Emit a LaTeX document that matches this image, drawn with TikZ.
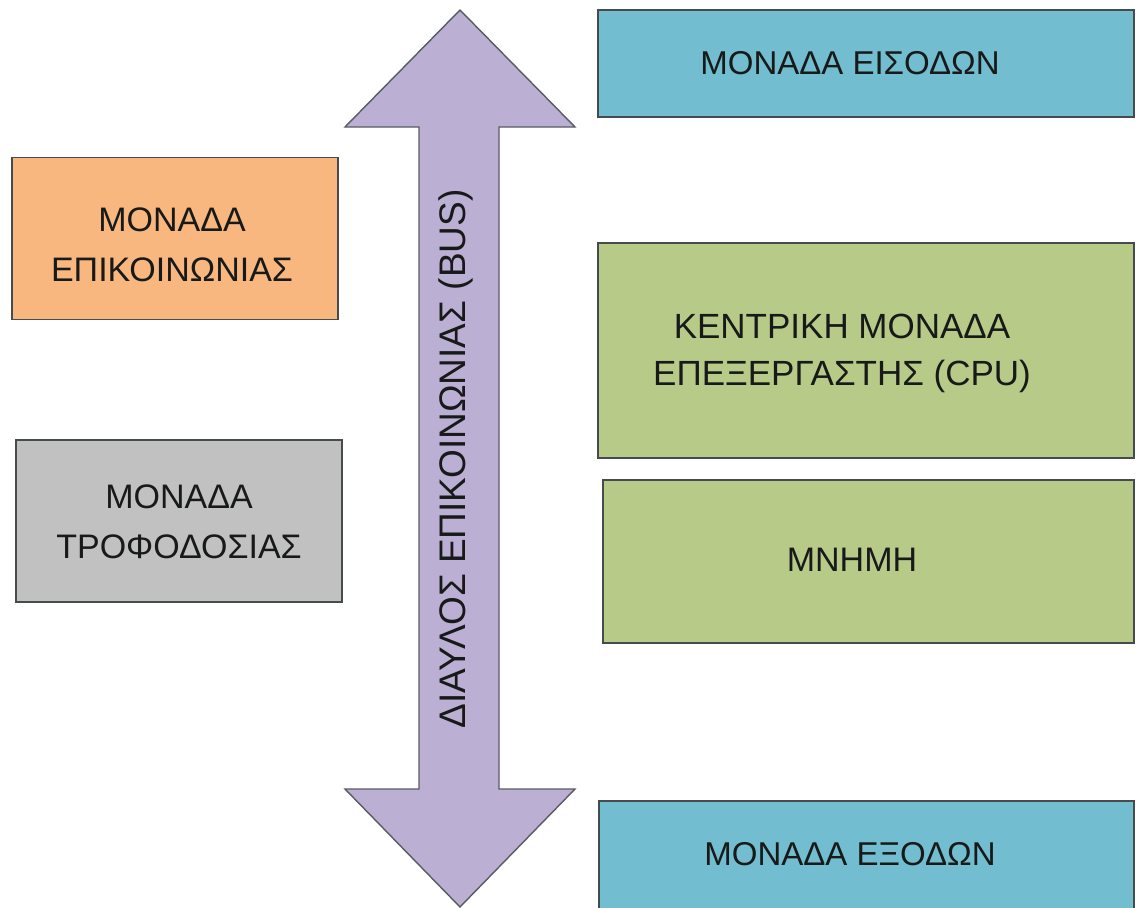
\documentclass[tikz,border=0pt]{standalone}
\usepackage{fontspec}
\setmainfont{Liberation Sans}
\definecolor{inbox}{RGB}{114,189,208}
\definecolor{commbox}{RGB}{249,183,128}
\definecolor{powerbox}{RGB}{193,193,193}
\definecolor{cpubox}{RGB}{184,202,136}
\definecolor{busfill}{RGB}{188,175,212}
\definecolor{edge}{RGB}{70,76,78}
\definecolor{ink}{RGB}{24,26,26}
\tikzset{
  unit/.style={draw=edge, line width=1.6pt, rectangle, inner sep=0pt},
  caption/.style={text=ink, align=center, inner sep=0pt,
    font=\fontsize{34}{50}\selectfont},
  busarrow/.style={draw=edge!85!busfill, line width=1.4pt, fill=busfill, line join=miter}
}
\begin{document}
\begin{tikzpicture}[x=1pt, y=-1pt]
  \useasboundingbox (0,0) rectangle (1136,908);

  % system bus: double-headed arrow
  \draw[busarrow] (460,10) -- (575,127) -- (499,127) -- (499,789) -- (575,789)
     -- (460,907) -- (345,789) -- (419,789) -- (419,127) -- (345,127) -- cycle;
  \node[caption, rotate=90, font=\fontsize{37}{44}\selectfont] (bus) at (456,459) {ΔΙΑΥΛΟΣ ΕΠΙΚΟΙΝΩΝΙΑΣ (BUS)};

  % functional units
  \node[unit, fill=inbox, minimum width=536pt, minimum height=107pt] (input) at (866,63.5) {};
  \node[caption, font=\fontsize{33}{50}\selectfont] (inputtxt) at (850,63) {ΜΟΝΑΔΑ ΕΙΣΟΔΩΝ};

  \node[unit, fill=commbox, minimum width=326pt, minimum height=162pt] (comm) at (175,238.5) {};
  \node[caption] (commtxt) at (172,245) {ΜΟΝΑΔΑ\\ΕΠΙΚΟΙΝΩΝΙΑΣ};

  \node[unit, fill=powerbox, minimum width=326pt, minimum height=162pt] (power) at (179,521) {};
  \node[caption] (powertxt) at (179,522) {ΜΟΝΑΔΑ\\ΤΡΟΦΟΔΟΣΙΑΣ};

  \node[unit, fill=cpubox, minimum width=536pt, minimum height=215pt] (cpu) at (866,350.5) {};
  \node[caption, font=\fontsize{35}{47}\selectfont] (cputxt) at (842,353) {ΚΕΝΤΡΙΚΗ ΜΟΝΑΔΑ\\ΕΠΕΞΕΡΓΑΣΤΗΣ (CPU)};

  \node[unit, fill=cpubox, minimum width=531pt, minimum height=163pt] (mem) at (868.5,561.5) {};
  \node[caption] (memtxt) at (852,560) {ΜΝΗΜΗ};

  \node[unit, fill=inbox, minimum width=535pt, minimum height=110pt] (output) at (866.5,856) {};
  \node[caption, font=\fontsize{33}{50}\selectfont] (outputtxt) at (850,854) {ΜΟΝΑΔΑ ΕΞΟΔΩΝ};
\end{tikzpicture}
\end{document}
